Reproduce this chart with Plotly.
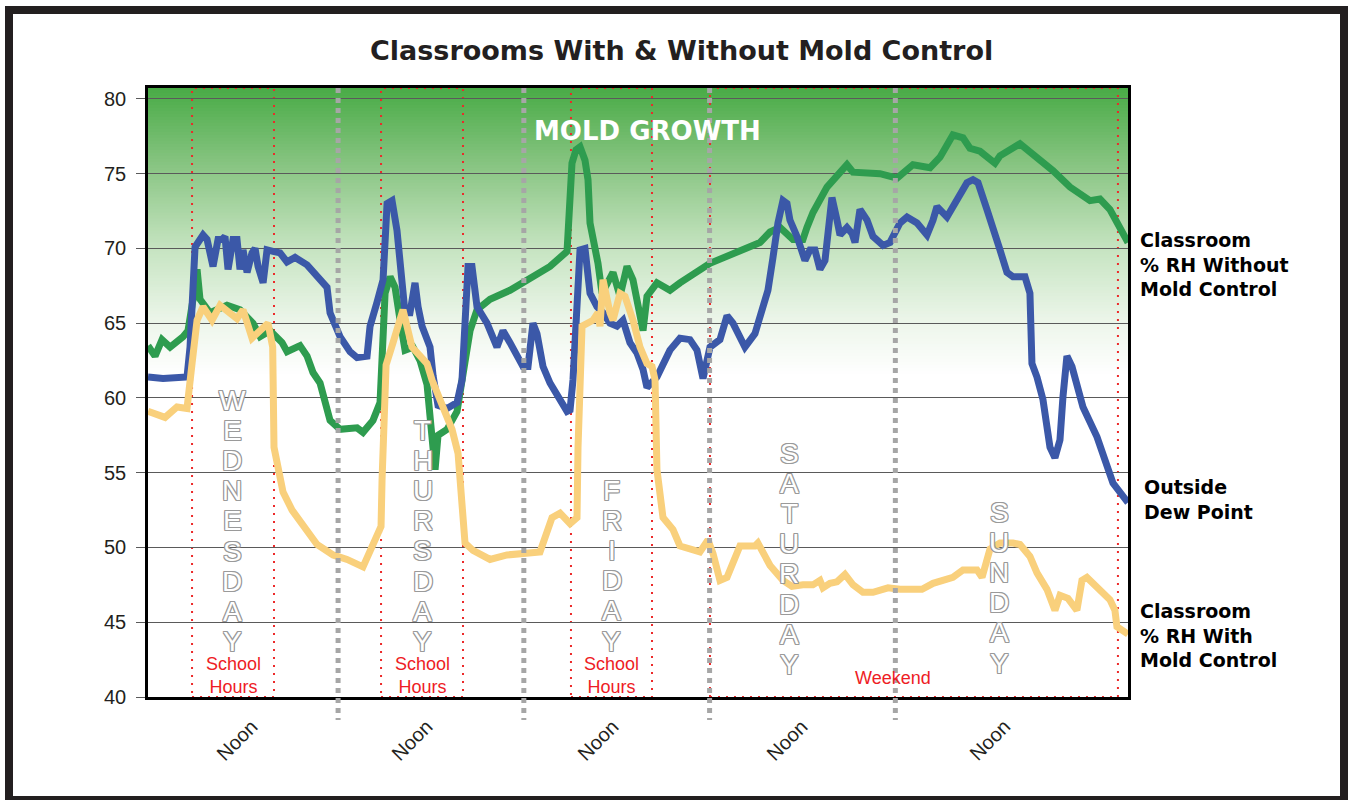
import plotly.graph_objects as go

# ---------------- data (hours since Wednesday 00:00) ----------------
green_hours = [-0.56, 0.35, 1.25, 2.29, 3.97, 4.61, 5.26, 5.78, 6.16, 7.45, 9.65, 11.33, 13.01, 13.92,
               15.21, 16.76, 17.41, 19.08, 19.99, 20.76, 21.67, 22.96, 24.25, 26.45, 27.22, 28.51,
               29.42, 29.81, 30.07, 30.72, 31.36, 32.01, 32.65, 33.68, 34.59, 35.49, 36.14, 36.53,
               36.91, 38.08, 39.37, 40.01, 41.05, 41.95, 43.63, 46.21, 48.80, 51.38, 53.58, 54.22,
               54.74, 55.26, 55.90, 56.29, 56.55, 57.58, 58.10, 59.13, 59.52, 60.42, 61.33, 62.10,
               63.40, 63.91, 65.20, 66.88, 68.17, 72.05, 75.92, 78.51, 79.81, 81.09, 82.77, 84.06,
               84.58, 85.36, 87.17, 88.46, 89.75, 90.53, 92.34, 94.02, 96.22, 98.28, 100.48, 101.77,
               103.44, 104.74, 105.64, 106.93, 108.87, 109.52, 112.10, 114.69, 116.37, 118.57,
               121.15, 122.44, 123.73, 126.06]
green_rh = [63.5, 62.8, 63.9, 63.4, 64.1, 64.5, 66.6, 68.6, 66.6, 65.7, 66.2, 65.9, 65.0, 64.1,
            64.5, 63.7, 63.1, 63.5, 62.8, 61.7, 61.0, 58.5, 57.9, 58.0, 57.7, 58.5,
            59.7, 63.4, 67.0, 68.1, 67.4, 65.2, 63.2, 63.4, 62.5, 60.9, 57.9, 55.2,
            57.5, 57.9, 59.1, 61.2, 64.5, 65.9, 66.6, 67.2, 68.0, 68.8, 69.8, 75.7,
            76.6, 76.8, 75.9, 74.6, 71.7, 69.0, 67.0, 67.9, 68.4, 66.8, 68.8, 67.9,
            64.5, 66.8, 67.7, 67.2, 67.7, 69.0, 69.8, 70.4, 71.1, 71.4, 70.6, 70.6,
            71.4, 72.4, 74.1, 74.8, 75.6, 75.1, 75.1, 75.0, 74.7, 75.6, 75.4, 76.1,
            77.6, 77.4, 76.7, 76.5, 75.7, 76.2, 77.0, 75.9, 75.2, 74.1,
            73.2, 73.3, 72.6, 70.4]

blue_hours = [-0.56, 1.38, 4.48, 4.87, 5.52, 6.55, 7.07, 7.84, 8.49, 9.00, 9.39, 9.78, 10.43, 10.94,
              11.33, 11.72, 12.24, 12.88, 13.27, 13.66, 14.31, 14.82, 15.59, 16.50, 17.40, 18.44,
              19.99, 21.28, 22.57, 22.96, 24.25, 25.54, 26.45, 27.74, 28.13, 29.03, 29.81, 30.33,
              30.97, 31.61, 32.01, 32.65, 33.29, 33.94, 34.33, 34.85, 35.88, 36.27, 36.91, 38.08,
              39.37, 40.01, 40.79, 41.30, 41.95, 43.24, 44.53, 45.31, 46.21, 47.11, 47.89, 48.54,
              49.18, 49.70, 50.48, 51.38, 53.58, 53.97, 54.35, 55.26, 55.90, 56.55, 57.45, 58.23,
              59.13, 60.03, 60.81, 61.71, 62.62, 63.40, 63.91, 65.20, 66.88, 68.17, 69.46, 70.37,
              71.15, 72.05, 73.34, 74.25, 75.02, 76.57, 77.86, 78.90, 79.54, 80.19, 80.83, 81.48,
              82.00, 82.38, 83.29, 84.32, 84.97, 85.61, 86.26, 86.91, 87.81, 88.46, 88.85, 89.75,
              90.40, 90.79, 91.43, 92.34, 93.11, 94.41, 95.31, 96.60, 97.51, 98.80, 100.09, 100.87,
              101.38, 102.67, 103.97, 105.26, 106.03, 106.68, 107.84, 108.62, 109.52, 110.42,
              111.20, 112.75, 113.39, 113.65, 114.30, 115.07, 115.98, 116.62, 117.27, 117.66,
              118.17, 118.82, 120.24, 122.05, 123.34, 124.12, 126.06]
blue_dp = [61.4, 61.3, 61.4, 63.4, 70.1, 70.9, 70.6, 68.8, 70.6, 70.6, 70.8, 68.6, 70.6, 70.6,
           68.6, 69.9, 68.4, 69.7, 70.0, 68.8, 67.7, 69.9, 69.8, 69.7, 69.1, 69.4,
           68.9, 68.2, 67.4, 65.7, 64.1, 63.1, 62.7, 62.8, 64.8, 66.4, 67.9, 73.0,
           73.2, 71.2, 68.8, 65.7, 65.7, 67.7, 66.1, 64.8, 63.4, 61.5, 59.5, 59.3,
           59.7, 61.2, 68.8, 68.8, 66.1, 65.0, 63.4, 64.5, 63.7, 62.8, 62.1, 62.1,
           65.0, 64.3, 62.1, 61.0, 59.1, 59.2, 61.2, 69.9, 70.0, 67.0, 66.1, 65.7,
           65.0, 64.8, 65.2, 63.7, 63.0, 61.9, 60.7, 61.4, 63.2, 64.0, 63.9, 63.2,
           61.3, 63.4, 63.9, 65.5, 65.0, 63.4, 64.3, 66.1, 67.2, 69.4, 71.7, 73.2,
           73.0, 71.9, 70.8, 69.2, 69.9, 69.9, 68.6, 69.2, 73.4, 71.9, 70.9, 71.4,
           71.0, 70.4, 72.6, 71.9, 70.8, 70.2, 70.4, 71.7, 72.1, 71.7, 70.9, 71.9,
           72.8, 72.1, 73.2, 74.4, 74.6, 74.4, 72.6, 71.2, 69.9, 68.4,
           68.1, 68.1, 67.0, 62.3, 61.4, 59.9, 56.7, 56.0, 57.2, 60.1,
           62.8, 62.1, 59.4, 57.4, 55.4, 54.3, 53.0]

orange_hours = [-0.56, 1.64, 3.19, 4.48, 5.13, 5.78, 6.55, 7.71, 8.75, 10.94, 11.72, 12.88, 14.95,
                15.55, 15.72, 16.50, 16.89, 18.05, 19.47, 21.28, 23.35, 25.16, 27.22, 29.55,
                29.68, 29.94, 30.20, 31.10, 32.39, 33.55, 34.33, 35.49, 36.14, 37.18, 38.72,
                39.50, 40.01, 40.40, 41.43, 43.63, 45.83, 47.89, 50.09, 51.64, 52.68, 53.97,
                54.87, 55.00, 55.26, 55.52, 56.94, 57.58, 57.84, 58.23, 59.13, 59.52, 60.42,
                61.07, 62.10, 63.01, 63.91, 64.56, 64.95, 65.20, 65.98, 67.27, 68.17, 69.46,
                70.75, 71.79, 72.44, 73.34, 74.25, 75.92, 77.86, 78.24, 79.81, 81.48, 82.64,
                84.06, 85.35, 86.26, 86.65, 87.55, 88.46, 89.49, 90.53, 91.82, 93.11, 95.05,
                96.60, 99.44, 100.87, 103.44, 104.74, 106.55, 107.20, 108.23, 109.52, 111.20,
                112.10, 113.39, 114.30, 115.59, 116.62, 117.27, 118.30, 119.46, 120.11, 120.75,
                122.05, 123.73, 124.37, 124.63, 126.06]
orange_rh = [59.1, 58.7, 59.4, 59.3, 62.3, 65.2, 66.1, 65.2, 66.2, 65.3, 65.9, 64.0, 65.0,
             63.4, 56.7, 54.5, 53.7, 52.5, 51.4, 50.2, 49.5, 49.2, 48.7, 51.4,
             54.5, 59.9, 62.2, 63.7, 65.9, 63.4, 63.0, 62.3, 61.2, 59.9, 57.9,
             56.3, 53.4, 50.3, 49.8, 49.2, 49.5, 49.6, 49.7, 52.0, 52.3, 51.6,
             52.0, 56.7, 61.2, 64.8, 65.2, 65.7, 64.8, 67.9, 65.7, 65.2, 67.0,
             66.8, 65.2, 63.4, 62.3, 62.1, 61.2, 55.2, 52.0, 51.2, 50.1, 49.9,
             49.7, 50.5, 49.6, 47.8, 48.0, 50.1, 50.1, 50.3, 48.8, 47.8, 47.4,
             47.5, 47.5, 47.8, 47.3, 47.6, 47.7, 48.2, 47.5, 47.0, 47.0, 47.3,
             47.2, 47.2, 47.6, 48.0, 48.5, 48.5, 48.0, 49.9, 50.3, 50.3,
             50.2, 49.4, 48.3, 47.2, 45.8, 46.8, 46.6, 45.8, 47.8, 48.0,
             47.4, 46.5, 45.8, 44.7, 44.2]

y_ticks = [40, 45, 50, 55, 60, 65, 70, 75, 80]
noon_hours = [10.94, 33.55, 57.58, 82.0, 108.2]
noon_labels = ["Noon", "Noon", "Noon", "Noon", "Noon"]
midnight_hours = [24, 48, 72, 96]
school_spans = [(5.13, 15.72), (29.55, 40.14), (54.09, 64.56)]
weekend_span = (72.05, 124.76)
day_names = ["WEDNESDAY", "THURSDAY", "FRIDAY", "SATURDAY", "SUNDAY"]
series_names = ["Classroom<br>% RH Without<br>Mold Control", "Outside<br>Dew Point",
                "Classroom<br>% RH With<br>Mold Control"]

# ---------------- layout constants ----------------
X0, X1 = -0.56, 126.06
Y0, Y1 = 40.0, 80.73
L, R, T, B = 148, 220, 88, 103
W, H = 1348, 800
PW, PH = W - L - R, H - T - B

def px_to_paper_x(px):
    return (px - L) / PW

def py_to_paper_y(py):
    return (H - B - py) / PH

GREEN = "#2e9c4f"
BLUE = "#3b58a8"
ORANGE = "#f9d07c"
DARK = "#231f20"

fig = go.Figure()
fig.add_trace(go.Scatter(x=green_hours, y=green_rh, mode="lines",
                         line=dict(color=GREEN, width=7), name="Without", hoverinfo="skip"))
fig.add_trace(go.Scatter(x=blue_hours, y=blue_dp, mode="lines",
                         line=dict(color=BLUE, width=7), name="Dew", hoverinfo="skip"))
fig.add_trace(go.Scatter(x=orange_hours, y=orange_rh, mode="lines",
                         line=dict(color=ORANGE, width=7), name="With", hoverinfo="skip"))

shapes = []
# green "mold growth" gradient as thin stripes (below grid)
stops = [(61.5, (255, 255, 255)), (65.0, (237, 246, 235)), (70.0, (198, 228, 193)),
         (75.0, (143, 200, 137)), (80.8, (72, 170, 69))]

def grad(v):
    if v <= stops[0][0]:
        return stops[0][1]
    for (a, ca), (b, cb) in zip(stops[:-1], stops[1:]):
        if a <= v <= b:
            t = (v - a) / (b - a)
            return tuple(round(ca[i] + (cb[i] - ca[i]) * t) for i in range(3))
    return stops[-1][1]

step = 0.2
v = 60.0
while v < Y1:
    c = grad(v + step / 2)
    shapes.append(dict(type="rect", xref="x", yref="y", x0=X0, x1=X1, y0=v, y1=min(v + step + 0.05, Y1),
                       fillcolor="rgb(%d,%d,%d)" % c, line=dict(width=0), layer="below"))
    v += step

# red dotted school hours / weekend boxes
for a, b in school_spans + [weekend_span]:
    shapes.append(dict(type="rect", xref="x", yref="y", x0=a, x1=b, y0=Y0, y1=Y1,
                       line=dict(color="#ec2a2a", width=2, dash="2px,6px"), layer="below"))

# gray dotted midnight lines (extend below the axis)
for hval in midnight_hours:
    shapes.append(dict(type="line", xref="x", yref="paper", x0=hval, x1=hval, y0=1.0,
                       y1=py_to_paper_y(720), line=dict(color="#a6a6a6", width=5, dash="5px,5px"),
                       layer="above"))

# outer dark frame
shapes.append(dict(type="rect", xref="paper", yref="paper",
                   x0=px_to_paper_x(9), x1=px_to_paper_x(1344),
                   y0=py_to_paper_y(800), y1=py_to_paper_y(10),
                   line=dict(color=DARK, width=8), layer="above"))

ann = []
# title
ann.append(dict(text="Classrooms With & Without Mold Control", xref="paper", yref="paper",
                x=px_to_paper_x(681.5), y=py_to_paper_y(50), showarrow=False,
                xanchor="center", yanchor="middle",
                font=dict(family="DejaVu Sans", size=27, color=DARK, weight=700)))
# mold growth
ann.append(dict(text="MOLD GROWTH", xref="paper", yref="paper",
                x=px_to_paper_x(647), y=py_to_paper_y(131), showarrow=False,
                xanchor="center", yanchor="middle",
                font=dict(family="DejaVu Sans", size=26, color="white", weight=700)))
# right labels
for name, cy, lx in zip(series_names, [264, 499.5, 635], [1138, 1142, 1138]):
    ann.append(dict(text=name, xref="paper", yref="paper", x=px_to_paper_x(lx),
                    y=py_to_paper_y(cy), showarrow=False, xanchor="left", yanchor="middle",
                    align="left", font=dict(family="DejaVu Sans", size=19, color="black", weight=700)))
# noon labels
for hval, lab in zip(noon_hours, noon_labels):
    ann.append(dict(text=lab, xref="x", yref="paper", x=hval, y=py_to_paper_y(740),
                    showarrow=False, xanchor="center", yanchor="middle", textangle=-45,
                    font=dict(family="Liberation Sans", size=20, color=DARK)))
# school hours / weekend labels
for a, b in school_spans:
    cx = (a + b) / 2
    ann.append(dict(text="School<br>Hours", xref="x", yref="paper", x=cx, y=py_to_paper_y(675),
                    showarrow=False, xanchor="center", yanchor="middle", borderpad=0,
                    font=dict(family="Liberation Sans", size=18, color="#ee1c25")))
ann.append(dict(text="Weekend", xref="x", yref="paper", x=95.68, y=py_to_paper_y(678),
                showarrow=False, xanchor="center", yanchor="middle",
                font=dict(family="Liberation Sans", size=18, color="#ee1c25")))

# vertical hollow day names
day_x = [10.30, 34.97, 59.38, 82.26, 109.4]
day_top_py = [400, 430, 490, 453, 512]
letter_gap = 30.2
oc = "#9a9a9a"
outline = ", ".join(f"{dx}px {dy}px 0 {oc}" for dx, dy in
                    [(-1, -1), (1, -1), (-1, 1), (1, 1), (0, -1), (0, 1), (-1, 0), (1, 0)])
for name, dx, ty in zip(day_names, day_x, day_top_py):
    for i, ch in enumerate(name):
        ann.append(dict(text=ch, xref="x", yref="paper", x=dx, y=py_to_paper_y(ty + i * letter_gap),
                        showarrow=False, xanchor="center", yanchor="middle", borderpad=0,
                        font=dict(family="Liberation Sans", size=28, color="white", shadow=outline)))

fig.update_layout(
    width=W, height=H, margin=dict(l=L, r=R, t=T, b=B),
    paper_bgcolor="white", plot_bgcolor="rgba(0,0,0,0)",
    showlegend=False, shapes=shapes, annotations=ann,
    xaxis=dict(range=[X0, X1], showgrid=False, zeroline=False, showticklabels=False,
               ticks="", showline=True, linecolor="black", linewidth=2.5, mirror=True,
               fixedrange=True),
    yaxis=dict(range=[Y0, Y1], tickvals=y_ticks, ticktext=[str(t) for t in y_ticks],
               showgrid=True, gridcolor="#5a5a5a", gridwidth=1.2, zeroline=False,
               ticks="outside", ticklen=9, tickcolor="#5a5a5a", tickwidth=1.2,
               showline=True, linecolor="black", linewidth=2.5, mirror=True,
               tickfont=dict(family="Liberation Sans", size=20, color=DARK),
               ticklabelstandoff=6, fixedrange=True),
)

fig.write_html("out.html", config={"displayModeBar": False},
               post_script="document.body.style.margin='0px';")
